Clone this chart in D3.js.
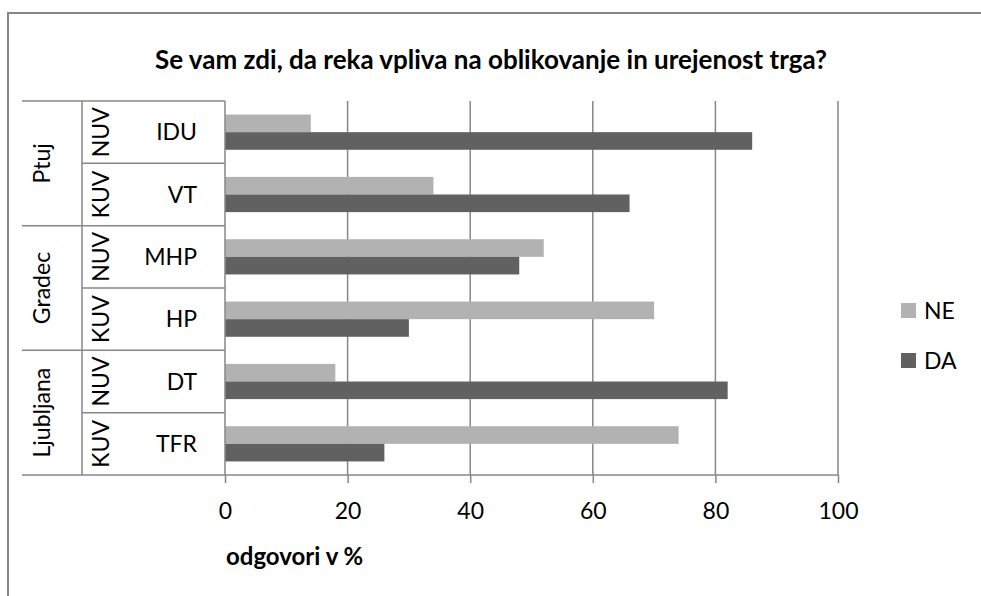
<!DOCTYPE html>
<html>
<head>
<meta charset="utf-8">
<script src="https://cdn.jsdelivr.net/npm/d3@7"></script>
<style>
  body { margin: 0; background: #fff; }
  svg { display: block; font-family: Lato, "Open Sans", sans-serif; }
</style>
</head>
<body>
<svg id="chart" width="981" height="596"></svg>
<script>
const title = "Se vam zdi, da reka vpliva na oblikovanje in urejenost trga?"
const categories = ["IDU", "VT", "MHP", "HP", "DT", "TFR"]
const types = ["NUV", "KUV", "NUV", "KUV", "NUV", "KUV"]
const cities = ["Ptuj", "Ptuj", "Gradec", "Gradec", "Ljubljana", "Ljubljana"]
const seriesNames = ["NE", "DA"]
const neValues = [14, 34, 52, 70, 18, 74]
const daValues = [86, 66, 48, 30, 82, 26]
const xTicks = [0, 20, 40, 60, 80, 100]
const axisTitle = "odgovori v %"

const colors = { NE: "#b2b2b2", DA: "#616161" }
const lineColor = "#878787"

const svg = d3.select("#chart")
const plotLeft = 225, plotRight = 838, plotTop = 101, plotBottom = 475

const x = d3.scaleLinear().domain([0, 100]).range([plotLeft, plotRight])
const y = d3.scaleBand().domain(categories).range([plotTop, plotBottom])
const ySub = d3.scaleBand().domain(seriesNames).range([0, y.bandwidth()]).paddingOuter(0.77)

const rows = categories.map((c, i) => ({ cat: c, type: types[i], city: cities[i], NE: neValues[i], DA: daValues[i] }))

// outer frame (cropped on right/bottom)
svg.append("rect")
  .attr("x", 8).attr("y", 13).attr("width", 1000).attr("height", 1000)
  .attr("fill", "none").attr("stroke", lineColor).attr("stroke-width", 2)

// title
svg.append("text")
  .attr("x", 491).attr("y", 69)
  .attr("text-anchor", "middle")
  .attr("font-size", 26).attr("font-weight", "bold")
  .text(title)

// gridlines + x ticks
const grid = svg.append("g")
grid.selectAll("line.grid").data(xTicks.slice(1)).join("line")
  .attr("class", "grid")
  .attr("x1", d => x(d)).attr("x2", d => x(d))
  .attr("y1", plotTop).attr("y2", plotBottom)
  .attr("stroke", lineColor).attr("stroke-width", 1.5)

const xAxis = d3.axisBottom(x).tickValues(xTicks).tickSize(8).tickPadding(20).tickSizeOuter(0)
const gx = svg.append("g").attr("transform", `translate(0,${plotBottom})`).call(xAxis)
gx.select(".domain").remove()
gx.selectAll("line").attr("stroke", lineColor).attr("stroke-width", 1.5)
gx.selectAll("text").attr("font-size", 23).attr("font-family", "Lato, sans-serif").attr("fill", "#000")

// bars
const rowG = svg.append("g").selectAll("g").data(rows).join("g")
  .attr("transform", d => `translate(0,${y(d.cat)})`)
rowG.selectAll("rect").data(d => seriesNames.map(s => ({ s, v: d[s] }))).join("rect")
  .attr("x", x(0))
  .attr("y", d => ySub(d.s))
  .attr("width", d => x(d.v) - x(0))
  .attr("height", ySub.bandwidth())
  .attr("fill", d => colors[d.s])

// category table lines
const lines = svg.append("g").attr("stroke", lineColor).attr("stroke-width", 1.5)
// axis lines
lines.append("line").attr("x1", plotLeft).attr("x2", plotLeft).attr("y1", plotTop).attr("y2", plotBottom)
lines.append("line").attr("x1", 22).attr("x2", plotRight).attr("y1", plotBottom).attr("y2", plotBottom)
lines.append("line").attr("x1", 82).attr("x2", 82).attr("y1", plotTop).attr("y2", plotBottom)
rows.forEach((d, i) => {
  const yy = y(d.cat)
  const isGroupStart = i === 0 || cities[i - 1] !== d.city
  lines.append("line")
    .attr("x1", isGroupStart ? 22 : 82).attr("x2", plotLeft)
    .attr("y1", yy).attr("y2", yy)
})

// category labels
svg.append("g").selectAll("text").data(rows).join("text")
  .attr("x", 197)
  .attr("y", d => y(d.cat) + y.bandwidth() / 2)
  .attr("dy", "0.35em")
  .attr("text-anchor", "end")
  .attr("font-size", 23)
  .text(d => d.cat)

// type labels (rotated)
svg.append("g").selectAll("text").data(rows).join("text")
  .attr("transform", d => `translate(101,${y(d.cat) + y.bandwidth() / 2}) rotate(-90)`)
  .attr("dy", "0.35em")
  .attr("text-anchor", "middle")
  .attr("font-size", 23)
  .text(d => d.type)

// city labels (rotated)
const cityNames = Array.from(new Set(cities))
svg.append("g").selectAll("text").data(cityNames).join("text")
  .attr("transform", c => {
    const cats = categories.filter((_, i) => cities[i] === c)
    const cy = (y(cats[0]) + y(cats[cats.length - 1]) + y.bandwidth()) / 2
    return `translate(42,${cy}) rotate(-90)`
  })
  .attr("dy", "0.35em")
  .attr("text-anchor", "middle")
  .attr("font-size", 23)
  .text(c => c)

// axis title
svg.append("text")
  .attr("x", 226).attr("y", 565)
  .attr("font-size", 24).attr("font-weight", "bold")
  .text(axisTitle)

// legend
const legend = svg.append("g").selectAll("g").data(seriesNames).join("g")
  .attr("transform", (d, i) => `translate(901,${303 + i * 50})`)
legend.append("rect").attr("width", 15).attr("height", 15).attr("fill", d => colors[d])
legend.append("text").attr("x", 23).attr("y", 15.5).attr("font-size", 23).text(d => d)
</script>
</body>
</html>
